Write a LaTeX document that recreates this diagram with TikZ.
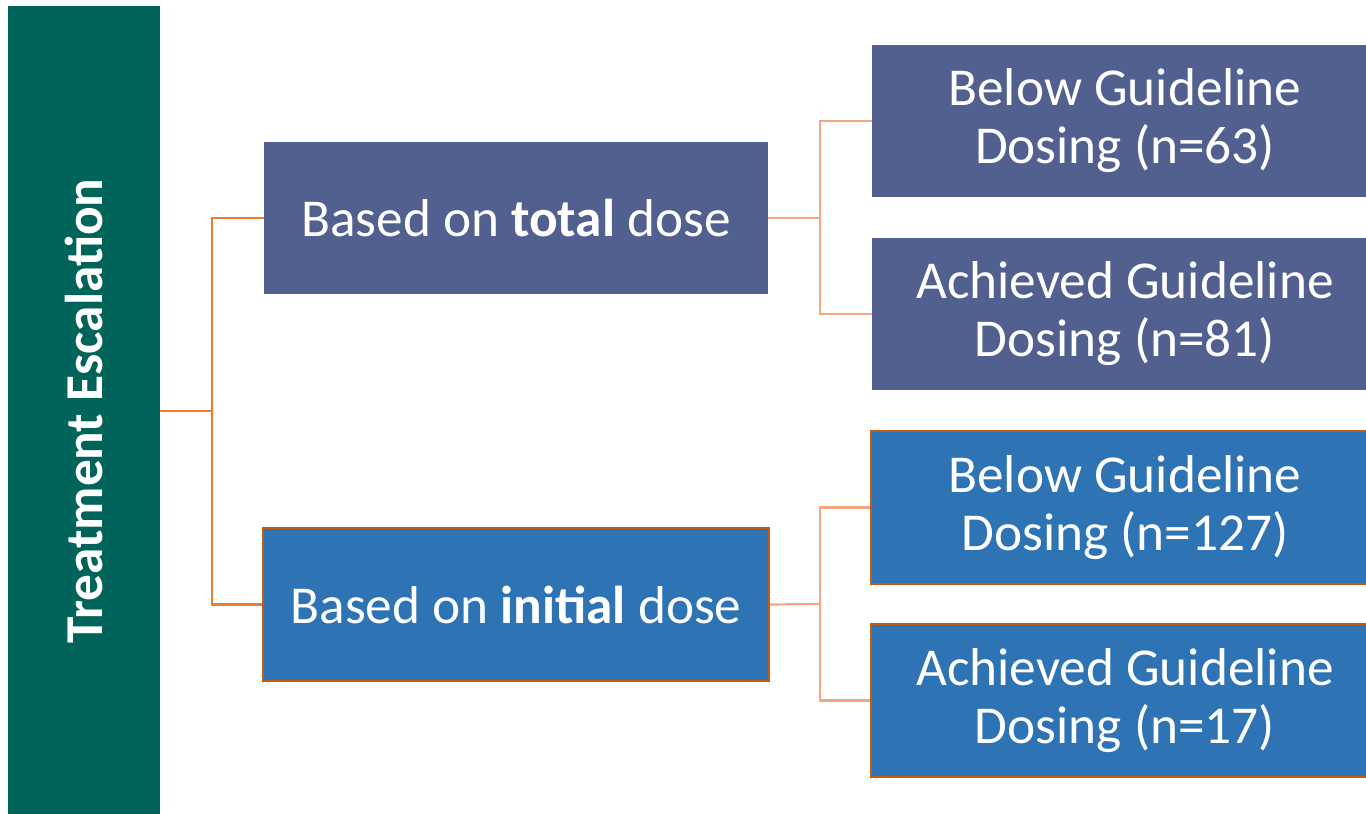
\documentclass[tikz,border=0pt]{standalone}
\usepackage{fontspec}
\setmainfont{Carlito}
\definecolor{teal}{RGB}{0,100,90}
\definecolor{slate}{RGB}{82,96,143}
\definecolor{blu}{RGB}{46,116,181}
\definecolor{org}{RGB}{237,125,49}
\definecolor{lorg}{RGB}{244,166,130}
\definecolor{dorg}{RGB}{197,90,17}
\begin{document}
\begin{tikzpicture}[x=1pt,y=-1pt,
  box/.style={draw=none,inner sep=0pt,text=white,align=center,font=\fontsize{53.3}{58}\selectfont},
  mid/.style={box},
  obord/.style={draw=dorg,line width=2.2pt},
  link/.style={draw=org,line width=2.2pt},
  llink/.style={draw=lorg,line width=2.2pt}]
\useasboundingbox (0,0) rectangle (1366,814);
\node[box,fill=teal,minimum width=152pt,minimum height=808pt] (root) at (84,410) {};
\node[rotate=90,text=white,font=\fontsize{53.3}{58}\selectfont\bfseries] (rootlabel) at (84,411) {Treatment Escalation};
\node[mid,fill=slate,minimum width=504pt,minimum height=152pt] (a) at (516,218) {Based on \textbf{total} dose};
\node[mid,fill=blu,obord,minimum width=506pt,minimum height=153pt] (b) at (516,604.5) {Based on \textbf{initial} dose};
\node[box,fill=slate,minimum width=506pt,minimum height=152pt] (a1) at (1125,121) {Below Guideline\\Dosing (n=63)};
\node[box,fill=slate,minimum width=506pt,minimum height=152pt] (a2) at (1125,314) {Achieved Guideline\\Dosing (n=81)};
\node[box,fill=blu,obord,minimum width=508pt,minimum height=153pt] (b1) at (1125,507.5) {Below Guideline\\Dosing (n=127)};
\node[box,fill=blu,obord,minimum width=508pt,minimum height=153pt] (b2) at (1125,700.5) {Achieved Guideline\\Dosing (n=17)};
\coordinate (j0) at (212,411);
\coordinate (j1) at (820,218);
\coordinate (j2) at (820,604);
\draw[link] (root.east |- j0) -- (j0);
\draw[link] (a.west) -| (j0) |- (b.west);
\draw[llink] (a.east) -- (j1);
\draw[llink] (a1.west) -| (j1) |- (a2.west);
\draw[llink] (b.east) -- (j2);
\draw[llink] (b1.west) -| (j2) |- (b2.west);
\end{tikzpicture}
\end{document}
